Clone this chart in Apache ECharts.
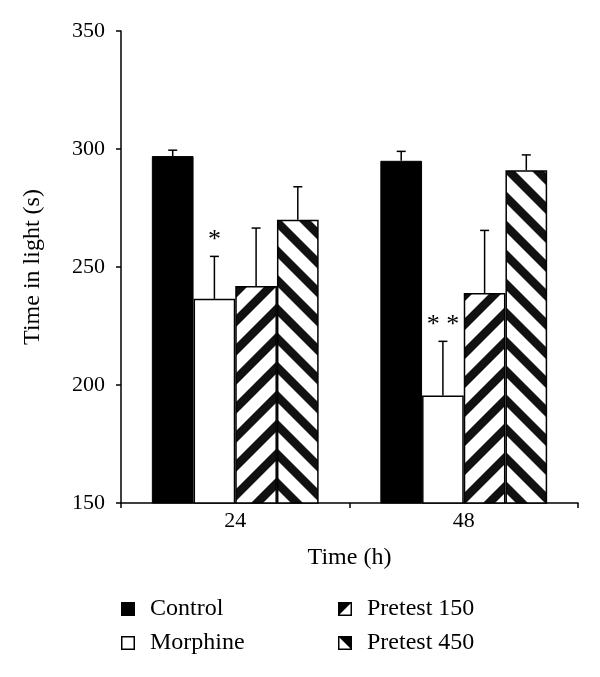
<!DOCTYPE html>
<html>
<head>
<meta charset="utf-8">
<script src="https://cdn.jsdelivr.net/npm/echarts@6/dist/echarts.min.js"></script>
<style>
html,body{margin:0;padding:0;background:#fff;}
#chart{width:600px;height:677px;}
</style>
</head>
<body>
<div id="chart"></div>
<script>
// ---- data ----
var categories = ['24', '48'];
var seriesNames = ['Control', 'Morphine', 'Pretest 150', 'Pretest 450'];
var controlValues = [297, 295];
var morphineValues = [236.5, 195.5];
var pretest150Values = [242, 239];
var pretest450Values = [270, 291];
var controlErrors = [2.5, 4];
var morphineErrors = [18, 23];
var pretest150Errors = [24.5, 26.5];
var pretest450Errors = [14, 6.5];
var morphineSignificance = ['*', '**'];
var yTicks = [150, 200, 250, 300, 350];

var FONT = '"Liberation Serif", "Times New Roman", serif';
var P = 29, W = 12;

function stripeCanvas(dir) {
  var c = document.createElement('canvas');
  c.width = P; c.height = P;
  var ctx = c.getContext('2d');
  ctx.fillStyle = '#fff';
  ctx.fillRect(0, 0, P, P);
  ctx.fillStyle = '#111';
  [-P, 0, P].forEach(function (k) {
    ctx.beginPath();
    if (dir === 'up') {
      ctx.moveTo(k + 2 * P, -2 * P);
      ctx.lineTo(k + W + 2 * P, -2 * P);
      ctx.lineTo(k + W - 2 * P, 2 * P);
      ctx.lineTo(k - 2 * P, 2 * P);
    } else {
      ctx.moveTo(k - 2 * P, -2 * P);
      ctx.lineTo(k + W - 2 * P, -2 * P);
      ctx.lineTo(k + W + 2 * P, 2 * P);
      ctx.lineTo(k + 2 * P, 2 * P);
    }
    ctx.closePath();
    ctx.fill();
  });
  return c;
}
var upImg = stripeCanvas('up');
var downImg = stripeCanvas('down');

var chart = echarts.init(document.getElementById('chart'), null, {renderer: 'canvas'});

var GRID = {left: 121, right: 22, top: 31, bottom: 174};
var GAP = 0.27;

var allValues = [controlValues, morphineValues, pretest150Values, pretest450Values];
var allErrors = [controlErrors, morphineErrors, pretest150Errors, pretest450Errors];

function errData(si) {
  return categories.map(function (c, i) {
    return [i, allValues[si][i], allErrors[si][i]];
  });
}

function makeRenderErr(si) {
  return function (params, api) {
    var ci = api.value(0);
    var v = api.value(1), e = api.value(2);
    var base = api.coord([ci, v]);
    var top = api.coord([ci, v + e]);
    var band = api.size([1, 0])[0];
    var total = band * (1 - GAP);
    var bw = total / 4;
    var x = base[0] - total / 2 + (si + 0.5) * bw;
    var children = [
      {type: 'line', shape: {x1: x, y1: base[1], x2: x, y2: top[1]}, style: {stroke: '#000', lineWidth: 1.5}},
      {type: 'line', shape: {x1: x - 4.5, y1: top[1], x2: x + 4.5, y2: top[1]}, style: {stroke: '#000', lineWidth: 1.5}}
    ];
    var sig = si === 1 ? morphineSignificance[params.dataIndex] : '';
    if (sig) {
      children.push({type: 'text', style: {text: sig.split('').join(' '), x: x, y: top[1] - 3, align: 'center', verticalAlign: 'bottom', font: '26px ' + FONT, fill: '#000'}});
    }
    return {type: 'group', children: children};
  };
}

function buildOption(offsets) {
  var series = [
    {name: seriesNames[0], type: 'bar', data: controlValues, itemStyle: {color: '#000', borderColor: '#000', borderWidth: 1}},
    {name: seriesNames[1], type: 'bar', data: morphineValues, itemStyle: {color: '#fff', borderColor: '#000', borderWidth: 1.5}},
    {name: seriesNames[2], type: 'bar', data: pretest150Values.map(function (v) {
      return {value: v, itemStyle: {color: {image: upImg, repeat: 'repeat'}}};
    }), itemStyle: {borderColor: '#000', borderWidth: 1.5}},
    {name: seriesNames[3], type: 'bar', data: pretest450Values.map(function (v, i) {
      return {value: v, itemStyle: {color: {image: downImg, repeat: 'repeat', x: offsets[i], y: 0}}};
    }), itemStyle: {borderColor: '#000', borderWidth: 1.5}}
  ];
  series.forEach(function (s) { s.barGap = 0; s.barCategoryGap = (GAP * 100) + '%'; s.animation = false; s.z = 2; });
  for (var si = 0; si < 4; si++) {
    series.push({type: 'custom', name: 'err' + si, data: errData(si), renderItem: makeRenderErr(si), z: 5, animation: false, silent: true});
  }
  var legendCommon = {
    orient: 'vertical', top: 597, padding: 0, itemWidth: 14, itemHeight: 14, itemGap: 10,
    textStyle: {fontFamily: FONT, fontSize: 24, lineHeight: 24, color: '#000', padding: [0, 0, 0, 10]},
    selectedMode: false
  };
  var frame = 'M0,0L14,0L14,14L0,14Z M1.5,1.5L1.5,12.5L12.5,12.5L12.5,1.5Z';
  var iconStyle = {color: '#000', borderWidth: 0};
  return {
    animation: false,
    backgroundColor: '#fff',
    grid: GRID,
    legend: [
      Object.assign({left: 121, data: [
        {name: 'Control', icon: 'rect', itemStyle: iconStyle},
        {name: 'Morphine', icon: 'path://' + frame, itemStyle: iconStyle}
      ]}, legendCommon),
      Object.assign({left: 338, data: [
        {name: 'Pretest 150', icon: 'path://' + frame + ' M1.5,1.5L12.5,1.5L1.5,12.5Z', itemStyle: iconStyle},
        {name: 'Pretest 450', icon: 'path://' + frame + ' M1.5,1.5L12.5,1.5L12.5,12.5Z', itemStyle: iconStyle}
      ]}, legendCommon)
    ],
    xAxis: {
      type: 'category', data: categories,
      name: 'Time (h)', nameLocation: 'middle', nameGap: 43,
      nameTextStyle: {fontFamily: FONT, fontSize: 24, color: '#000'},
      axisLine: {lineStyle: {color: '#000', width: 1.5}},
      axisTick: {show: true, length: 5, lineStyle: {color: '#000', width: 1.5}},
      axisLabel: {fontFamily: FONT, fontSize: 22, color: '#000', margin: 7}
    },
    yAxis: {
      type: 'value', min: yTicks[0], max: yTicks[yTicks.length - 1], interval: 50,
      name: 'Time in light (s)', nameLocation: 'middle', nameGap: 76, nameRotate: 90,
      nameTextStyle: {fontFamily: FONT, fontSize: 24, color: '#000'},
      axisLine: {show: true, lineStyle: {color: '#000', width: 1.5}},
      axisTick: {show: true, length: 5, lineStyle: {color: '#000', width: 1.5}},
      axisLabel: {fontFamily: FONT, fontSize: 22, color: '#000', margin: 16},
      splitLine: {show: false}
    },
    series: series
  };
}

chart.setOption(buildOption([0, 0]));
// align "\" pattern to mirror "/" pattern about shared bar edge (chevrons)
var offs = categories.map(function (c, i) {
  var center = chart.convertToPixel({xAxisIndex: 0}, i);
  var band = (600 - GRID.left - GRID.right) / categories.length;
  var edge = center + band * (1 - GAP) / 4;
  return 2 * edge - W;
});
chart.setOption(buildOption(offs));
</script>
</body>
</html>
